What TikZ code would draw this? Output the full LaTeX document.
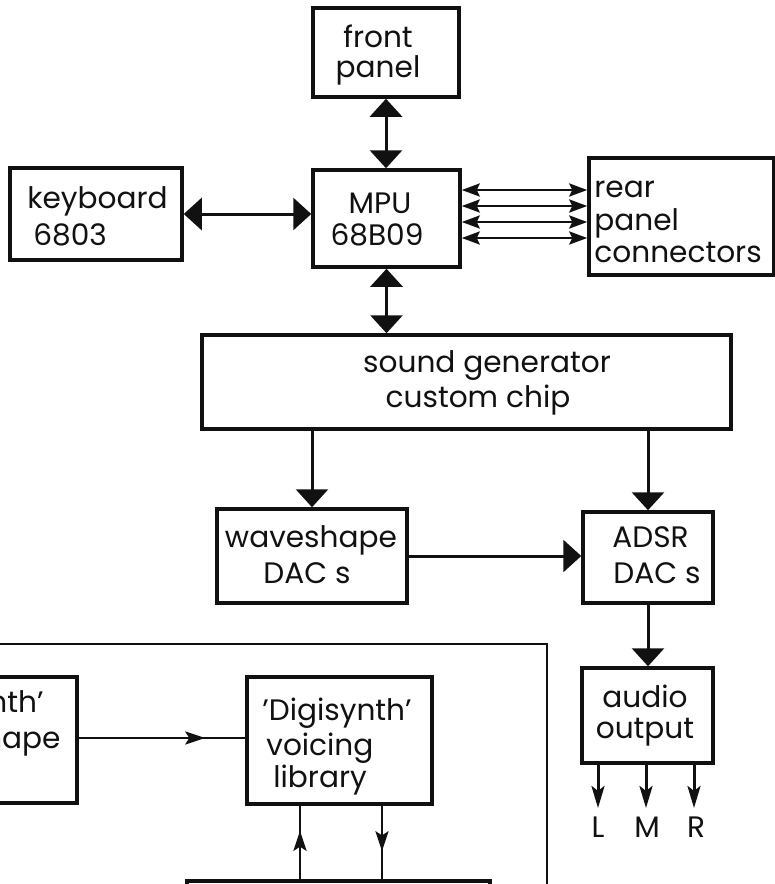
\documentclass[tikz,border=0pt]{standalone}
\usepackage{fontspec}
\setmainfont{Poppins}
\usetikzlibrary{arrows.meta,fit,decorations.markings,calc}
\definecolor{ink}{HTML}{111111}
\tikzset{
  box/.style={draw=ink, line width=1.75pt, inner sep=0pt, rectangle},
  lbl/.style={inner sep=0pt, font=\fontsize{14.8}{18}\selectfont, text=ink},
  link/.style={draw=ink, line width=1.5pt},
  thin link/.style={draw=ink, line width=1.4pt},
  bigT/.tip={Triangle[length=9pt,width=16pt]},
  smT/.tip={Stealth[length=9pt,width=6.5pt,inset=1.5pt]},
  outT/.tip={Stealth[length=11pt,width=6.5pt,inset=2.5pt]},
  midarrow/.style={postaction={decorate}, decoration={markings,
      mark=at position #1 with {\arrow{Stealth[length=10pt,width=6.5pt,inset=2pt]}}}}
}
\begin{document}
\begin{tikzpicture}[x=0.5pt,y=-0.5pt]
\useasboundingbox (0,0) rectangle (775,884);
\clip (0,0) rectangle (775,884);
\fill[white] (0,0) rectangle (775,884);

% ---------- boxes ----------
\node[box, fit={(313,8) (459,97)}] (front) {};
\node[box, fit={(10,168) (182,260)}] (kb) {};
\node[box, fit={(313,170) (460,267)}] (mpu) {};
\node[box, fit={(589,158) (774,275)}] (rear) {};
\node[box, fit={(202,335) (731,429)}] (sound) {};
\node[box, fit={(217,509) (407,603)}] (wave) {};
\node[box, fit={(583,512) (713,603)}] (adsr) {};
\node[box, fit={(582,668) (713,763)}] (audio) {};
\node[box, line width=1.4pt, fit={(-20,644) (547,960)}] (group) {};
\node[box, fit={(-150,677) (77,803)}] (dwave) {};
\node[box, fit={(247,677) (432,804)}] (digi) {};
\node[box, fit={(187,881) (490,960)}] (bot) {};

% ---------- texts ----------
\node[lbl, anchor=base] (tf1) at (378,47) {front};
\node[lbl, anchor=base] (tf2) at (378,77) {panel};
\node[lbl, anchor=base west] (tk1) at (27,208) {keyboard};
\node[lbl, anchor=base west] (tk2) at (33,245) {6803};
\node[lbl, anchor=base] (tm1) at (380,213) {MPU};
\node[lbl, anchor=base] (tm2) at (377,245) {68B09};
\node[lbl, anchor=base west] (tr1) at (594,197) {rear};
\node[lbl, anchor=base west] (tr2) at (594,230) {panel};
\node[lbl, anchor=base west] (tr3) at (594,262) {connectors};
\node[lbl, anchor=base] (ts1) at (487,372) {sound generator};
\node[lbl, anchor=base] (ts2) at (478,407) {custom chip};
\node[lbl, anchor=base] (tw1) at (311,547) {waveshape};
\node[lbl, anchor=base west] (tw2) at (263,583) {DAC s};
\node[lbl, anchor=base west] (ta1) at (612,547) {ADSR};
\node[lbl, anchor=base west] (ta2) at (613,583) {DAC s};
\node[lbl, anchor=base] (to1) at (645,707) {audio};
\node[lbl, anchor=base] (to2) at (645,738) {output};
\node[lbl, anchor=base east] (td1) at (44,712) {'Digisynth'};
\node[lbl, anchor=base east] (td2) at (61,748) {waveshape};
\node[lbl, anchor=base west] (tg1) at (262,720) {'Digisynth'};
\node[lbl, anchor=base west] (tg2) at (266,755) {voicing};
\node[lbl, anchor=base west] (tg3) at (273,787) {library};
\node[lbl, anchor=base] (L) at (598,837) {L};
\node[lbl, anchor=base] (M) at (647,837) {M};
\node[lbl, anchor=base] (R) at (696,837) {R};

% ---------- connectors ----------
\draw[link, bigT-bigT] (kb.east) -- (kb.east -| mpu.west);
\draw[link, bigT-bigT] (front.south) -- (front.south |- mpu.north);
\draw[link, bigT-bigT] (mpu.south) -- (mpu.south |- sound.north);

\coordinate (r1) at (520,190);
\coordinate (r2) at (520,206);
\coordinate (r3) at (520,222);
\coordinate (r4) at (520,238);
\foreach \r in {r1,r2,r3,r4}
  \draw[thin link, smT-smT] (mpu.east |- \r) -- (rear.west |- \r);

\draw[link, -bigT] (wave.north |- sound.south) -- (wave.north);
\draw[link, -bigT] (adsr.north |- sound.south) -- (adsr.north);
\draw[link, -bigT] (wave.east) -- (wave.east -| adsr.west);
\draw[link, -bigT] (adsr.south) -- (adsr.south |- audio.north);

\coordinate (oL) at (598,808);
\coordinate (oM) at (646,808);
\coordinate (oR) at (694,808);
\foreach \o in {oL,oM,oR}
  \draw[link, -outT] (audio.south -| \o) -- (\o);

\draw[thin link, midarrow=0.76] (dwave.east |- 0,738) -- (digi.west |- 0,738);
\coordinate (u1) at (300,840);
\coordinate (u2) at (382,840);
\draw[thin link, midarrow=0.66] (bot.north -| u1) -- (digi.south -| u1);
\draw[thin link, midarrow=0.62] (digi.south -| u2) -- (bot.north -| u2);
\end{tikzpicture}
\end{document}
